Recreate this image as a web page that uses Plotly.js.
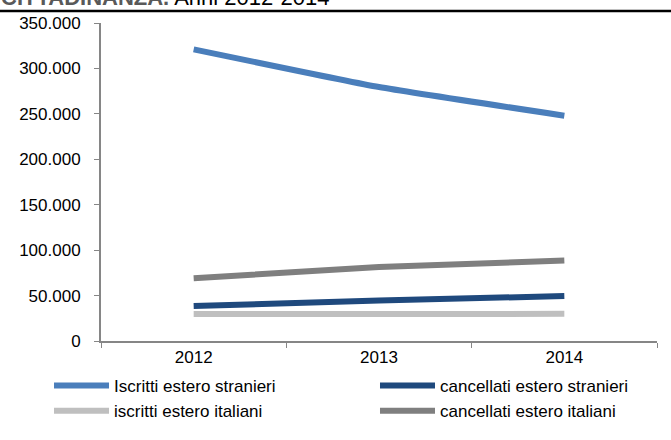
<!DOCTYPE html>
<html>
<head>
<meta charset="utf-8">
<script src="https://cdn.plot.ly/plotly-3.0.1.min.js"></script>
<style>html,body{margin:0;padding:0;background:#fff;}#chart{width:671px;height:440px;}</style>
</head>
<body>
<div id="chart"></div>
<script>
const years = ['2012', '2013', '2014'];
const iscrittiStranieri = [321000, 279500, 248000];
const cancellatiStranieri = [38500, 44500, 49500];
const iscrittiItaliani = [29800, 29700, 29900];
const cancellatiItaliani = [69000, 81500, 88500];
const seriesNames = ['Iscritti estero stranieri', 'cancellati estero stranieri', 'iscritti estero italiani', 'cancellati estero italiani'];
const seriesColors = ['#4a7ebb', '#1f497d', '#bfbfbf', '#7f7f7f'];
const legendColumn = ['legend', 'legend2', 'legend', 'legend2'];
const yTicks = [0, 50000, 100000, 150000, 200000, 250000, 300000, 350000];

const FONT = 'Liberation Sans, Arial, sans-serif';
const allValues = [iscrittiStranieri, cancellatiStranieri, iscrittiItaliani, cancellatiItaliani];

const traces = allValues.map((vals, i) => ({
  x: years, y: vals, name: seriesNames[i], type: 'scatter', mode: 'lines',
  legend: legendColumn[i], legendgroup: 'g' + i,
  line: {color: seriesColors[i], width: 6, shape: 'spline', smoothing: 0.4},
  hoverinfo: 'skip'
}));

const legendBase = {
  orientation: 'v', xanchor: 'left', y: -0.0815, yanchor: 'top', traceorder: 'normal',
  font: {family: FONT, size: 17, color: '#000000'},
  itemwidth: 55, tracegroupgap: 1.5, bgcolor: 'rgba(0,0,0,0)'
};

const layout = {
  width: 671, height: 440,
  margin: {l: 101, r: 14, t: 23, b: 98},
  paper_bgcolor: '#ffffff', plot_bgcolor: '#ffffff',
  separators: ',.',
  font: {family: FONT, size: 17, color: '#000000'},
  showlegend: true,
  legend: Object.assign({}, legendBase, {x: -0.0935}),
  legend2: Object.assign({}, legendBase, {x: 0.4928}),
  xaxis: {
    type: 'category', range: [-0.5, 2.5], tickson: 'boundaries', ticks: 'outside', ticklen: 5, tickcolor: '#868686',
    showline: true, linecolor: '#868686', linewidth: 2, showgrid: false, zeroline: false,
    tickfont: {family: FONT, size: 17, color: '#000000'}, fixedrange: true
  },
  yaxis: {
    range: [0, 350000], tickvals: yTicks, tickformat: ',d', ticks: 'outside', ticklen: 5, tickcolor: '#868686',
    showline: true, linecolor: '#868686', linewidth: 2, showgrid: false, zeroline: false,
    ticklabelstandoff: 10,
    tickfont: {family: FONT, size: 17, color: '#000000'}, fixedrange: true
  },
  shapes: [{
    type: 'line', xref: 'paper', yref: 'paper',
    x0: -101/556, x1: 570/556, y0: (342-11)/319, y1: (342-11)/319,
    line: {color: '#000000', width: 2.5}
  }],
  annotations: [{
    xref: 'paper', yref: 'paper', x: -102/556, y: (342-12)/319, xanchor: 'left', yanchor: 'bottom',
    showarrow: false, align: 'left',
    text: '<b><span style="color:#595959">CITTADINANZA.</span></b> Anni 2012-2014',
    font: {family: FONT, size: 22, color: '#000000'}
  }]
};

Plotly.newPlot('chart', traces, layout, {displayModeBar: false, staticPlot: true});
</script>
</body>
</html>
